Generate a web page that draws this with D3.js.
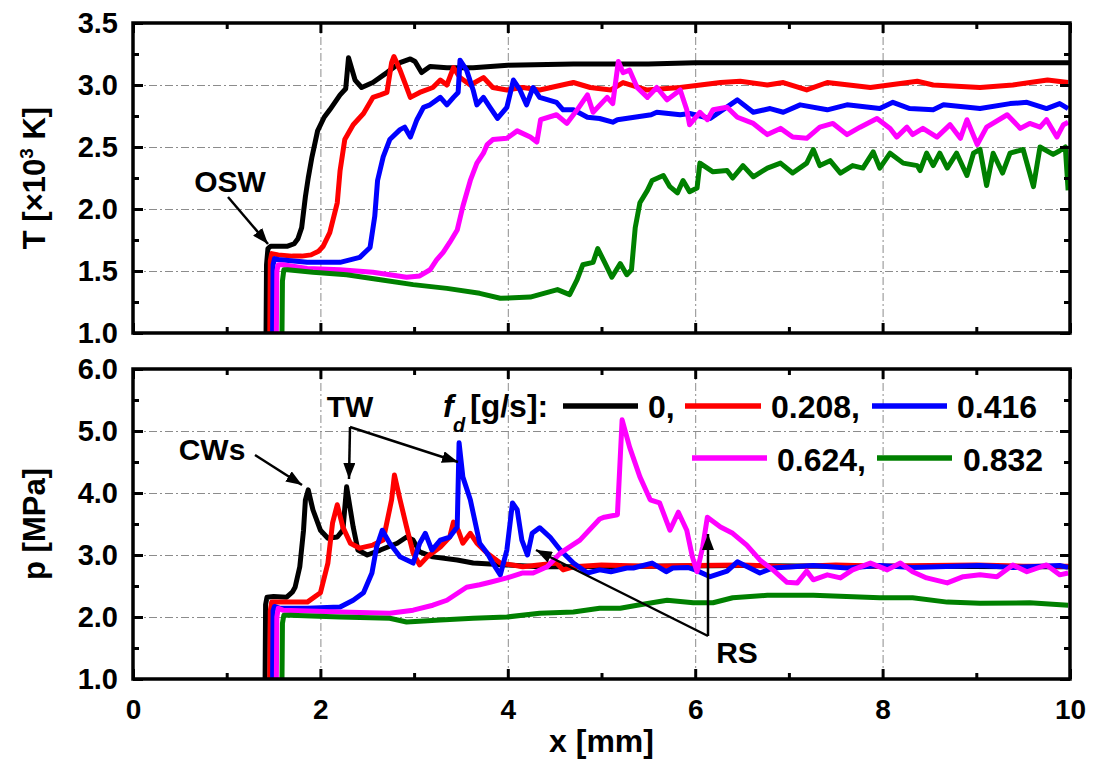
<!DOCTYPE html>
<html>
<head>
<meta charset="utf-8">
<script src="https://cdn.jsdelivr.net/npm/d3@7"></script>
<style>
  html, body { margin: 0; padding: 0; background: #fff; }
  svg { display: block; }
  text { font-family: "Liberation Sans", Arial, sans-serif; font-weight: bold; fill: #000; }
</style>
</head>
<body>
<svg id="chart" width="1093" height="760"></svg>
<script>
// ---- series: [x (mm), value] ----
const seriesNames = ["0", "0.208", "0.416", "0.624", "0.832"];
const seriesColors = ["#000000", "#ff0000", "#0000ff", "#ff00ff", "#008000"];

// temperature, x10^3 K
const T_0 = [[1.42,1.0],[1.425,1.55],[1.44,1.68],[1.47,1.70],[1.55,1.70],[1.65,1.70],[1.72,1.72],[1.76,1.76],[1.80,1.85],[1.84,2.10],[1.87,2.25],[1.91,2.42],[1.97,2.63],[2.04,2.74],[2.10,2.80],[2.21,2.92],[2.27,2.97],[2.30,3.22],[2.37,3.04],[2.44,2.98],[2.56,3.02],[2.71,3.10],[2.85,3.18],[2.96,3.21],[3.01,3.19],[3.08,3.10],[3.17,3.15],[3.35,3.14],[3.63,3.14],[4.0,3.16],[4.7,3.17],[5.5,3.17],[6.0,3.18],[6.5,3.18],[7.5,3.18],[8.5,3.18],[9.5,3.18],[10,3.18]];
const T_0208 = [[1.46,1.0],[1.465,1.58],[1.48,1.64],[1.55,1.63],[1.70,1.62],[1.80,1.62],[1.90,1.63],[1.98,1.66],[2.03,1.70],[2.10,1.81],[2.18,2.05],[2.21,2.31],[2.26,2.56],[2.35,2.68],[2.46,2.77],[2.56,2.90],[2.64,2.92],[2.71,2.94],[2.76,3.18],[2.785,3.23],[2.85,3.12],[2.92,2.98],[2.96,2.90],[3.06,2.94],[3.20,2.98],[3.28,3.04],[3.35,3.00],[3.42,3.14],[3.49,3.06],[3.60,3.00],[3.74,3.06],[3.84,2.98],[3.99,2.96],[4.16,2.98],[4.34,2.96],[4.70,3.02],[4.88,2.98],[5.10,2.96],[5.23,3.02],[5.48,2.96],[5.84,2.98],[6.27,3.02],[6.48,3.03],[6.77,3.00],[6.94,3.02],[7.19,2.96],[7.41,3.02],[7.87,2.98],[8.37,3.03],[8.54,3.00],[9.04,2.98],[9.39,3.00],[9.76,3.04],[9.98,3.02]];
const T_0416 = [[1.49,1.0],[1.495,1.55],[1.51,1.60],[1.57,1.59],[1.86,1.57],[2.21,1.57],[2.42,1.61],[2.53,1.69],[2.58,1.94],[2.61,2.23],[2.67,2.42],[2.74,2.56],[2.85,2.64],[2.90,2.66],[2.96,2.58],[3.03,2.72],[3.10,2.82],[3.17,2.84],[3.28,2.90],[3.35,2.84],[3.42,2.90],[3.47,2.94],[3.49,3.20],[3.56,3.12],[3.63,2.96],[3.67,2.84],[3.74,2.90],[3.81,2.82],[3.89,2.73],[3.99,2.82],[4.06,3.04],[4.13,2.96],[4.20,2.84],[4.27,2.98],[4.34,2.90],[4.52,2.86],[4.59,2.80],[4.70,2.80],[4.85,2.74],[4.98,2.73],[5.12,2.70],[5.17,2.72],[5.53,2.76],[5.59,2.78],[5.84,2.76],[5.94,2.77],[6.16,2.73],[6.45,2.88],[6.62,2.78],[6.80,2.81],[6.94,2.78],[7.12,2.84],[7.41,2.80],[7.62,2.84],[7.97,2.81],[8.11,2.86],[8.29,2.81],[8.54,2.80],[8.65,2.84],[9.04,2.81],[9.36,2.85],[9.54,2.86],[9.75,2.81],[9.89,2.85],[9.98,2.81]];
const T_0624 = [[1.53,1.0],[1.535,1.50],[1.55,1.55],[1.60,1.55],[1.86,1.52],[2.21,1.51],[2.56,1.49],[2.92,1.45],[3.06,1.46],[3.17,1.51],[3.24,1.59],[3.31,1.65],[3.38,1.73],[3.46,1.83],[3.52,2.02],[3.60,2.23],[3.67,2.37],[3.74,2.45],[3.78,2.52],[3.84,2.56],[3.99,2.57],[4.10,2.63],[4.24,2.58],[4.31,2.54],[4.35,2.72],[4.52,2.76],[4.63,2.69],[4.74,2.80],[4.85,2.92],[4.91,2.78],[5.06,2.90],[5.12,2.85],[5.18,3.19],[5.23,3.10],[5.30,3.12],[5.38,2.98],[5.49,2.90],[5.59,2.98],[5.70,2.88],[5.84,2.96],[5.91,2.80],[5.94,2.68],[6.05,2.78],[6.13,2.72],[6.19,2.80],[6.34,2.82],[6.45,2.74],[6.62,2.69],[6.77,2.60],[6.91,2.65],[7.04,2.58],[7.19,2.57],[7.33,2.66],[7.47,2.69],[7.62,2.60],[7.76,2.66],[7.94,2.73],[8.08,2.65],[8.15,2.58],[8.26,2.66],[8.32,2.60],[8.43,2.65],[8.58,2.58],[8.72,2.68],[8.83,2.57],[8.90,2.72],[9.01,2.52],[9.11,2.66],[9.33,2.76],[9.47,2.65],[9.57,2.69],[9.68,2.66],[9.75,2.72],[9.86,2.58],[9.93,2.68],[9.98,2.70]];
const T_0832 = [[1.59,1.0],[1.595,1.42],[1.61,1.51],[1.65,1.51],[1.92,1.49],[2.28,1.47],[2.64,1.43],[2.99,1.39],[3.35,1.36],[3.70,1.32],[3.92,1.28],[4.24,1.29],[4.53,1.35],[4.66,1.31],[4.74,1.43],[4.80,1.55],[4.91,1.57],[4.96,1.68],[5.04,1.56],[5.11,1.45],[5.20,1.56],[5.27,1.47],[5.32,1.51],[5.36,1.85],[5.41,2.05],[5.49,2.15],[5.54,2.23],[5.66,2.27],[5.73,2.18],[5.81,2.13],[5.87,2.23],[5.94,2.14],[6.02,2.17],[6.05,2.37],[6.19,2.30],[6.34,2.31],[6.40,2.25],[6.51,2.35],[6.62,2.26],[6.77,2.33],[6.91,2.37],[7.04,2.29],[7.19,2.37],[7.26,2.48],[7.33,2.35],[7.44,2.39],[7.55,2.29],[7.68,2.35],[7.79,2.33],[7.90,2.46],[7.97,2.33],[8.08,2.45],[8.22,2.37],[8.37,2.35],[8.40,2.31],[8.47,2.45],[8.54,2.35],[8.61,2.45],[8.69,2.33],[8.79,2.45],[8.90,2.27],[8.97,2.45],[9.04,2.48],[9.11,2.19],[9.18,2.45],[9.28,2.29],[9.36,2.45],[9.50,2.48],[9.61,2.18],[9.68,2.50],[9.82,2.44],[9.89,2.47],[9.95,2.50],[9.98,2.15]];

// pressure, MPa
const p_0 = [[1.41,1.0],[1.415,2.2],[1.43,2.32],[1.50,2.33],[1.64,2.32],[1.70,2.40],[1.73,2.48],[1.78,2.81],[1.82,3.40],[1.84,3.89],[1.87,4.05],[1.92,3.73],[2.00,3.40],[2.08,3.27],[2.18,3.29],[2.24,3.40],[2.28,4.10],[2.35,3.45],[2.40,3.08],[2.50,3.00],[2.64,3.08],[2.82,3.19],[2.92,3.29],[2.99,3.24],[3.06,3.05],[3.20,2.97],[3.46,2.92],[3.63,2.87],[3.99,2.84],[4.34,2.81],[4.70,2.81],[5.5,2.82],[6.5,2.83],[7.5,2.82],[8.5,2.82],[9.5,2.81],[10,2.81]];
const p_0208 = [[1.46,1.0],[1.465,2.1],[1.48,2.24],[1.60,2.24],[1.86,2.24],[2.00,2.39],[2.08,2.87],[2.13,3.52],[2.18,3.81],[2.24,3.45],[2.32,3.19],[2.42,3.11],[2.56,3.16],[2.67,3.24],[2.76,3.89],[2.79,4.29],[2.85,3.89],[2.92,3.45],[2.99,3.03],[3.06,2.84],[3.14,2.97],[3.28,3.13],[3.38,3.29],[3.42,3.53],[3.47,3.40],[3.52,3.19],[3.60,3.35],[3.67,3.19],[3.78,3.03],[3.92,2.87],[4.16,2.81],[4.52,2.87],[4.59,2.76],[4.70,2.81],[5.0,2.84],[5.5,2.82],[6.0,2.83],[6.5,2.84],[7.0,2.81],[7.5,2.84],[8.0,2.82],[8.5,2.83],[9.0,2.84],[9.5,2.82],[10,2.82]];
const p_0416 = [[1.49,1.0],[1.495,2.1],[1.51,2.17],[1.57,2.14],[1.86,2.14],[2.21,2.16],[2.35,2.27],[2.46,2.39],[2.55,2.71],[2.60,3.13],[2.66,3.40],[2.74,3.19],[2.85,2.97],[2.99,2.87],[3.06,3.19],[3.12,3.35],[3.19,3.08],[3.28,3.24],[3.38,3.29],[3.46,3.45],[3.48,4.81],[3.52,4.26],[3.60,3.89],[3.70,3.19],[3.78,3.03],[3.84,2.87],[3.92,2.68],[3.99,3.08],[4.05,3.84],[4.10,3.73],[4.15,3.24],[4.21,3.00],[4.26,3.35],[4.34,3.44],[4.45,3.29],[4.56,3.08],[4.70,2.87],[4.85,2.71],[4.98,2.76],[5.10,2.73],[5.27,2.79],[5.34,2.79],[5.54,2.87],[5.69,2.73],[5.76,2.79],[5.92,2.80],[6.00,2.76],[6.16,2.65],[6.34,2.74],[6.45,2.89],[6.69,2.71],[6.83,2.79],[7.26,2.83],[7.62,2.79],[7.97,2.83],[8.32,2.80],[9.04,2.83],[9.39,2.80],[9.89,2.83],[9.98,2.80]];
const p_0624 = [[1.53,1.0],[1.535,2.0],[1.55,2.14],[1.60,2.11],[2.21,2.08],[2.74,2.06],[2.99,2.11],[3.20,2.19],[3.35,2.27],[3.56,2.48],[3.70,2.52],[3.81,2.56],[3.99,2.63],[4.16,2.71],[4.27,2.71],[4.42,2.81],[4.56,3.03],[4.66,3.13],[4.77,3.24],[4.98,3.58],[5.03,3.61],[5.17,3.65],[5.22,5.18],[5.30,4.74],[5.41,4.26],[5.52,3.89],[5.62,3.84],[5.73,3.40],[5.82,3.69],[5.91,3.40],[5.97,2.97],[6.02,2.73],[6.08,3.13],[6.13,3.61],[6.27,3.45],[6.40,3.35],[6.55,3.16],[6.69,2.92],[6.83,2.76],[6.98,2.56],[7.09,2.55],[7.19,2.74],[7.26,2.60],[7.41,2.68],[7.55,2.63],[7.68,2.76],[7.87,2.87],[8.05,2.76],[8.19,2.87],[8.32,2.73],[8.47,2.63],[8.69,2.55],[8.86,2.65],[9.04,2.68],[9.22,2.65],[9.39,2.84],[9.54,2.73],[9.75,2.84],[9.89,2.68],[9.98,2.71]];
const p_0832 = [[1.59,1.0],[1.595,1.9],[1.61,2.03],[1.68,2.03],[2.21,2.00],[2.74,1.98],[2.92,1.92],[3.28,1.95],[3.63,1.98],[3.99,2.00],[4.34,2.06],[4.70,2.08],[4.98,2.14],[5.20,2.14],[5.38,2.19],[5.70,2.27],[5.98,2.23],[6.19,2.23],[6.40,2.31],[6.77,2.35],[7.26,2.35],[7.97,2.31],[8.32,2.31],[8.69,2.24],[9.04,2.22],[9.57,2.23],[9.98,2.19]];

const tempSeries = [T_0, T_0208, T_0416, T_0624, T_0832];
const presSeries = [p_0, p_0208, p_0416, p_0624, p_0832];

// ticks
const xMajorTicks = [0, 2, 4, 6, 8, 10];
const xMinorTicks = [1, 3, 5, 7, 9];
const tMajorTicks = [1.0, 1.5, 2.0, 2.5, 3.0, 3.5];
const tMinorTicks = [1.25, 1.75, 2.25, 2.75, 3.25];
const pMajorTicks = [1, 2, 3, 4, 5, 6];
const pMinorTicks = [1.5, 2.5, 3.5, 4.5, 5.5];

// ---- layout ----
const svg = d3.select("#chart");
const L = 133, R = 1070;
const panels = [
  { top: 23, bottom: 333, domain: [1.0, 3.5], major: tMajorTicks, minor: tMinorTicks, data: tempSeries, fmt: d3.format(".1f") },
  { top: 369, bottom: 679, domain: [1.0, 6.0], major: pMajorTicks, minor: pMinorTicks, data: presSeries, fmt: d3.format(".1f") }
];

const x = d3.scaleLinear().domain([0, 10]).range([L, R]);

const defs = svg.append("defs");
defs.append("marker")
  .attr("id", "arrowHead")
  .attr("markerUnits", "userSpaceOnUse")
  .attr("viewBox", "0 0 16 12")
  .attr("refX", 16).attr("refY", 6)
  .attr("markerWidth", 16).attr("markerHeight", 12)
  .attr("orient", "auto")
  .append("path").attr("d", "M0,0 L16,6 L0,12 Z").attr("fill", "#000");

panels.forEach((P, i) => {
  const y = d3.scaleLinear().domain(P.domain).range([P.bottom, P.top]);
  P.y = y;
  const W = R - L, H = P.bottom - P.top;
  const g = svg.append("g");

  // grid (dash-dot)
  const grid = g.append("g").attr("class", "grid");
  grid.append("g").attr("transform", `translate(0,${P.bottom})`)
    .call(d3.axisBottom(x).tickValues([2, 4, 6, 8]).tickSize(-H).tickFormat(""));
  grid.append("g").attr("transform", `translate(${L},0)`)
    .call(d3.axisLeft(y).tickValues(P.major.slice(1, -1)).tickSize(-W).tickFormat(""));
  grid.selectAll(".domain").remove();
  grid.selectAll("line").attr("stroke", "#8c8c8c").attr("stroke-width", 1).attr("stroke-dasharray", "8,3,2,3");

  // curves
  const clipId = "clip" + i;
  defs.append("clipPath").attr("id", clipId)
    .append("rect").attr("x", L).attr("y", P.top).attr("width", W).attr("height", H);
  const line = d3.line().x(d => x(d[0])).y(d => y(d[1]));
  const cg = g.append("g").attr("clip-path", `url(#${clipId})`);
  P.data.forEach((s, k) => {
    cg.append("path").datum(s)
      .attr("d", line)
      .attr("fill", "none")
      .attr("stroke", seriesColors[k])
      .attr("stroke-width", 5)
      .attr("stroke-linejoin", "round")
      .attr("stroke-linecap", "butt");
  });

  // ticks on all four sides, pointing inward
  const ax = g.append("g").attr("class", "axes");
  const addAxis = (gen, tr) => {
    const a = ax.append("g").attr("transform", tr).call(gen);
    a.select(".domain").remove();
    a.selectAll("line").attr("stroke", "#000").attr("stroke-width", 3);
    return a;
  };
  const left = addAxis(d3.axisLeft(y).tickValues(P.major).tickSize(-10).tickPadding(15).tickFormat(P.fmt), `translate(${L},0)`);
  left.selectAll("text").attr("font-size", 29).attr("font-family", "'Liberation Sans', Arial, sans-serif").attr("font-weight", "bold");
  addAxis(d3.axisLeft(y).tickValues(P.minor).tickSize(-6).tickFormat(""), `translate(${L},0)`);
  addAxis(d3.axisRight(y).tickValues(P.major).tickSize(-10).tickFormat(""), `translate(${R},0)`);
  addAxis(d3.axisRight(y).tickValues(P.minor).tickSize(-6).tickFormat(""), `translate(${R},0)`);
  const bottom = addAxis(d3.axisBottom(x).tickValues(xMajorTicks).tickSize(-10).tickPadding(20).tickFormat(i === 1 ? d3.format("d") : ""), `translate(0,${P.bottom})`);
  bottom.selectAll("text").attr("font-size", 28).attr("font-family", "'Liberation Sans', Arial, sans-serif").attr("font-weight", "bold");
  addAxis(d3.axisBottom(x).tickValues(xMinorTicks).tickSize(-6).tickFormat(""), `translate(0,${P.bottom})`);
  addAxis(d3.axisTop(x).tickValues(xMajorTicks).tickSize(-10).tickFormat(""), `translate(0,${P.top})`);
  addAxis(d3.axisTop(x).tickValues(xMinorTicks).tickSize(-6).tickFormat(""), `translate(0,${P.top})`);

  // frame
  g.append("rect").attr("x", L).attr("y", P.top).attr("width", W).attr("height", H)
    .attr("fill", "none").attr("stroke", "#000").attr("stroke-width", 3.5);
});

// ---- axis titles ----
const yT = panels[0], yP = panels[1];
const tTitle = svg.append("text")
  .attr("transform", `translate(45,${(yT.top + yT.bottom) / 2}) rotate(-90)`)
  .attr("text-anchor", "middle").attr("font-size", 31);
tTitle.append("tspan").text("T [×10");
tTitle.append("tspan").text("3").attr("font-size", 19).attr("dy", -12);
tTitle.append("tspan").text(" K]").attr("dy", 12);

svg.append("text")
  .attr("transform", `translate(45,${(yP.top + yP.bottom) / 2}) rotate(-90)`)
  .attr("text-anchor", "middle").attr("font-size", 31)
  .text("p [MPa]");

svg.append("text")
  .attr("x", (L + R) / 2).attr("y", 752)
  .attr("text-anchor", "middle").attr("font-size", 32)
  .text("x [mm]");

// ---- annotations ----
const arrow = (x1, y1, x2, y2) => svg.append("line")
  .attr("x1", x1).attr("y1", y1).attr("x2", x2).attr("y2", y2)
  .attr("stroke", "#000").attr("stroke-width", 2.5)
  .attr("marker-end", "url(#arrowHead)");
const label = (t, xx, yy) => svg.append("text").attr("x", xx).attr("y", yy)
  .attr("text-anchor", "middle").attr("font-size", 30).text(t);

label("OSW", 230, 192);
arrow(228, 197, 268, 244);

label("CWs", 212, 460);
arrow(255, 455, 302, 485);

label("TW", 350, 417);
arrow(350, 427, 349, 479);
arrow(350, 427, 458, 462);

label("RS", 737, 663);
arrow(708, 636, 708, 534);
arrow(708, 636, 536, 550);

// ---- legend ----
const lg = svg.append("g").attr("class", "legend");
lg.append("text").attr("x", 443).attr("y", 417).attr("font-size", 32).attr("font-style", "italic").text("f");
lg.append("text").attr("x", 453).attr("y", 432).attr("font-size", 20).attr("font-style", "italic").text("d");
lg.append("text").attr("x", 470).attr("y", 417).attr("font-size", 32).text("[g/s]:");

const legendItems = [
  { k: 0, x1: 563, x2: 638, y: 406, tx: 648, ty: 418, t: seriesNames[0] + "," },
  { k: 1, x1: 685, x2: 761, y: 406, tx: 771, ty: 418, t: seriesNames[1] + "," },
  { k: 2, x1: 872, x2: 947, y: 406, tx: 957, ty: 418, t: seriesNames[2] },
  { k: 3, x1: 692, x2: 767, y: 458, tx: 777, ty: 471, t: seriesNames[3] + "," },
  { k: 4, x1: 877, x2: 952, y: 458, tx: 963, ty: 471, t: seriesNames[4] }
];
legendItems.forEach(it => {
  lg.append("line").attr("x1", it.x1).attr("x2", it.x2).attr("y1", it.y).attr("y2", it.y)
    .attr("stroke", seriesColors[it.k]).attr("stroke-width", 5.5);
  lg.append("text").attr("x", it.tx).attr("y", it.ty).attr("font-size", 32).text(it.t);
});
</script>
</body>
</html>
